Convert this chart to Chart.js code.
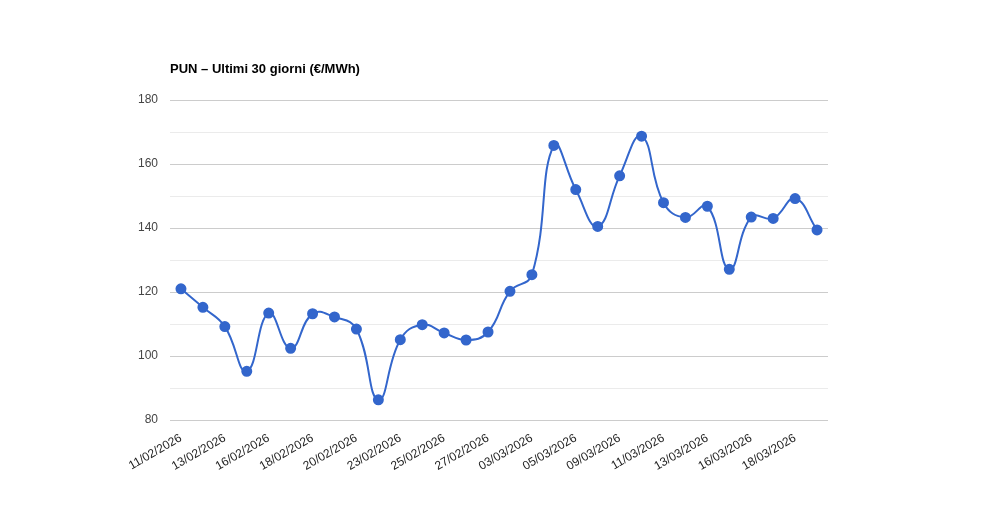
<!DOCTYPE html>
<html><head><meta charset="utf-8">
<script src="https://cdn.jsdelivr.net/npm/chart.js@4/dist/chart.umd.min.js"></script>
<style>
  body { margin: 0; background: #fff; }
  #wrap { position: relative; width: 1000px; height: 520px; }
  #title { position: absolute; left: 170px; top: 61px; font: bold 13px Arial, "Liberation Sans", sans-serif; color: #000; }
</style></head>
<body>
<div id="wrap">
  <canvas id="c" width="1000" height="520"></canvas>
  <div id="title">PUN – Ultimi 30 giorni (€/MWh)</div>
</div>
<script>
// ── DATA ──
const dates = ['11/02/2026','12/02/2026','13/02/2026','14/02/2026','16/02/2026','17/02/2026',
  '18/02/2026','19/02/2026','20/02/2026','21/02/2026','23/02/2026','24/02/2026','25/02/2026',
  '26/02/2026','27/02/2026','02/03/2026','03/03/2026','04/03/2026','05/03/2026','06/03/2026',
  '09/03/2026','10/03/2026','11/03/2026','12/03/2026','13/03/2026','14/03/2026','16/03/2026',
  '17/03/2026','18/03/2026','19/03/2026'];
const pun = [121, 115.2, 109.2, 95.2, 113.4, 102.4, 113.2, 112.2, 108.4, 86.3, 105.1, 109.8, 107.2,
  105, 107.5, 120.2, 125.4, 165.8, 152, 140.5, 156.3, 168.7, 147.9, 143.3, 146.8, 127.1, 143.4,
  143, 149.2, 139.4];

const font = { family: 'Arial, "Liberation Sans", sans-serif', size: 12 };

new Chart(document.getElementById('c'), {
  type: 'line',
  data: {
    labels: dates,
    datasets: [{
      data: pun,
      borderColor: '#3366cc',
      backgroundColor: '#3366cc',
      borderWidth: 2,
      pointRadius: 4.5,
      tension: 0.45,
      cubicInterpolationMode: 'default',
    }]
  },
  options: {
    responsive: false,
    animation: false,
    layout: { padding: { left: 0, right: 172, top: 100, bottom: 0 } },
    plugins: { legend: { display: false }, tooltip: { enabled: false } },
    scales: {
      x: {
        offset: true,
        grid: { display: false },
        border: { display: false },
        afterFit: s => { s.height = 100; },
        ticks: {
          autoSkip: false, maxRotation: 30, minRotation: 30, color: '#222', font,
          callback: (v, i) => i % 2 === 0 ? dates[i] : ''
        }
      },
      y: {
        min: 80, max: 180,
        afterFit: s => { s.width = 170; },
        border: { display: false },
        grid: { color: ctx => ctx.tick && ctx.tick.value % 20 === 0 ? '#cccccc' : '#ebebeb', drawTicks: false },
        ticks: {
          stepSize: 10, padding: 12, color: '#444', font,
          callback: v => v % 20 === 0 ? v : ''
        }
      }
    }
  }
});
</script>
</body></html>
